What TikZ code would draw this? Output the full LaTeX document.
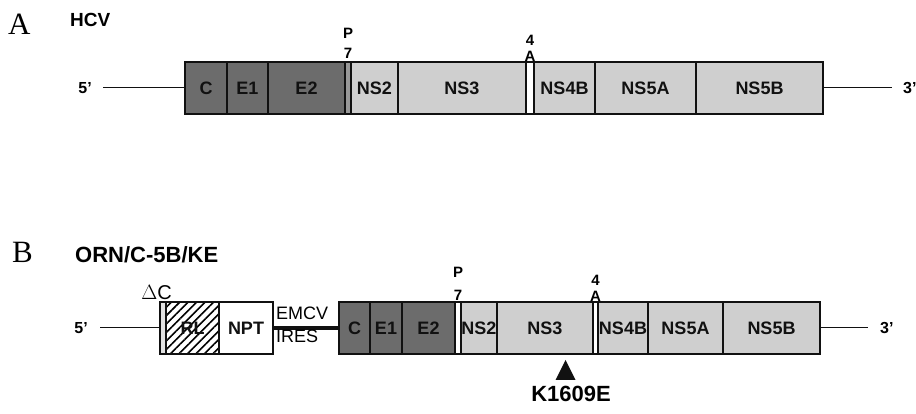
\documentclass[tikz,border=0pt]{standalone}
\usepackage{fontspec}
\setmainfont{Liberation Serif}
\setsansfont{Liberation Sans}
\usepackage{xcolor}
\usepackage{tikz}
\usetikzlibrary{positioning,patterns.meta}
\definecolor{ink}{HTML}{111111}
\definecolor{dark}{HTML}{6C6C6C}
\definecolor{pale}{HTML}{CFCFCF}
\definecolor{faint}{HTML}{E2E2E2}
\tikzset{
  seg/.style={draw=ink, line width=1.1pt, inner sep=0pt, outer sep=0pt,
    minimum height=52pt, text=ink,
    font=\sffamily\bfseries\fontsize{18}{20}\selectfont},
  core/.style={seg, fill=dark},
  nsreg/.style={seg, fill=pale},
  gapbox/.style={seg, fill=white},
  hatchbox/.style={seg, pattern={Lines[angle=45,distance=6pt,line width=1.6pt]}},
  rna/.style={line width=1pt, color=ink},
  ires/.style={line width=3.5pt, color=ink},
  endlab/.style={font=\sffamily\bfseries\fontsize{16}{18}\selectfont, inner sep=0pt},
  tag/.style={font=\sffamily\bfseries\fontsize{15}{20}\selectfont, align=center, inner sep=0pt},
  cut/.style={tag, font=\sffamily\bfseries\fontsize{15}{16}\selectfont},
  panel/.style={font=\rmfamily\fontsize{31}{33}\selectfont, inner sep=0pt, anchor=base west},
  title/.style={font=\sffamily\bfseries\fontsize{19}{21}\selectfont, inner sep=0pt, anchor=base west},
  plain/.style={font=\sffamily\fontsize{18}{20}\selectfont, inner sep=0pt},
}
\begin{document}
\begin{tikzpicture}[x=1pt,y=1pt]
  \useasboundingbox (0,0) rectangle (916,414);

  % A: HCV genome
  \node[panel] (lblA) at (8,379) {A};
  \node[title] (hcv) at (70,387) {HCV};
  \node[core, minimum width=42pt, anchor=west] (aC) at (185,326) {C};
  \node[core, minimum width=41pt, right=0pt of aC] (aE1) {E1};
  \node[core, minimum width=77pt, right=0pt of aE1] (aE2) {E2};
  \node[seg, fill=dark!70, minimum width=6pt, right=0pt of aE2] (ap7) {};
  \node[nsreg, minimum width=47pt, right=0pt of ap7] (aNS2) {NS2};
  \node[nsreg, minimum width=128pt, right=0pt of aNS2] (aNS3) {NS3};
  \node[gapbox, minimum width=8pt, right=0pt of aNS3] (a4A) {};
  \node[nsreg, minimum width=61pt, right=0pt of a4A] (aNS4B) {NS4B};
  \node[nsreg, minimum width=101pt, right=0pt of aNS4B] (aNS5A) {NS5A};
  \node[nsreg, minimum width=127pt, right=0pt of aNS5A] (aNS5B) {NS5B};
  \node[tag, above=3pt of ap7] (ap7lab) {P\\7};
  \node[cut, above=0pt of a4A] (a4Alab) {4\\A};

  \coordinate (a5) at (103,326);
  \coordinate (a3) at (892,326);
  \draw[rna] (a5) -- (aC);
  \draw[rna] (aNS5B) -- (a3);
  \node[endlab, left=11pt of a5] (a5lab) {5'};
  \node[endlab, right=11pt of a3] (a3lab) {3'};

  % B: ORN/C-5B/KE replicon
  \node[panel] (lblB) at (12,151) {B};
  \node[title, font=\sffamily\bfseries\fontsize{22}{24}\selectfont] (orn) at (75,151) {ORN/C-5B/KE};
  \node[seg, fill=faint, minimum width=6pt, anchor=west] (bDC) at (160,86) {};
  \node[hatchbox, minimum width=53pt, right=0pt of bDC] (bRL) {RL};
  \node[gapbox, minimum width=54pt, right=0pt of bRL] (bNPT) {NPT};
  \node[core, minimum width=31pt, anchor=west] (bC) at (339,86) {C};
  \node[core, minimum width=32pt, right=0pt of bC] (bE1) {E1};
  \node[core, minimum width=53pt, right=0pt of bE1] (bE2) {E2};
  \node[gapbox, minimum width=6pt, right=0pt of bE2] (bp7) {};
  \node[nsreg, minimum width=36pt, right=0pt of bp7] (bNS2) {NS2};
  \node[nsreg, minimum width=96pt, right=0pt of bNS2] (bNS3) {NS3};
  \node[gapbox, minimum width=5pt, right=0pt of bNS3] (b4A) {};
  \node[nsreg, minimum width=50pt, right=0pt of b4A] (bNS4B) {NS4B};
  \node[nsreg, minimum width=75pt, right=0pt of bNS4B] (bNS5A) {NS5A};
  \node[nsreg, minimum width=97pt, right=0pt of bNS5A] (bNS5B) {NS5B};
  \node[tag, font=\sffamily\bfseries\fontsize{15}{23}\selectfont, above=1pt of bp7] (bp7lab) {P\\7};
  \node[cut, above=0pt of b4A] (b4Alab) {4\\A};
  \node[plain, font=\sffamily\fontsize{20}{22}\selectfont, anchor=base east] (dC) at (172,114) {$\Delta$C};

  \draw[ires] (bNPT) -- (bC);
  \node[plain, anchor=base west] (emcv) at (276,94) {EMCV};
  \node[plain, anchor=base west] (iresl) at (276,71) {IRES};

  \coordinate (b5) at (100,86);
  \coordinate (b3) at (868,86);
  \draw[rna] (b5) -- (bDC);
  \draw[rna] (bNS5B) -- (b3);
  \node[endlab, left=12pt of b5] (b5lab) {5'};
  \node[endlab, right=12pt of b3] (b3lab) {3'};

  % mutation site in NS3
  \coordinate (mut) at (565.5,44);
  \fill[ink] (mut) +(-10,-10) -- +(10,-10) -- +(0,10) -- cycle;
  \node[title, font=\sffamily\bfseries\fontsize{22}{24}\selectfont, anchor=base] (kmut) at (571,12) {K1609E};
\end{tikzpicture}
\end{document}
